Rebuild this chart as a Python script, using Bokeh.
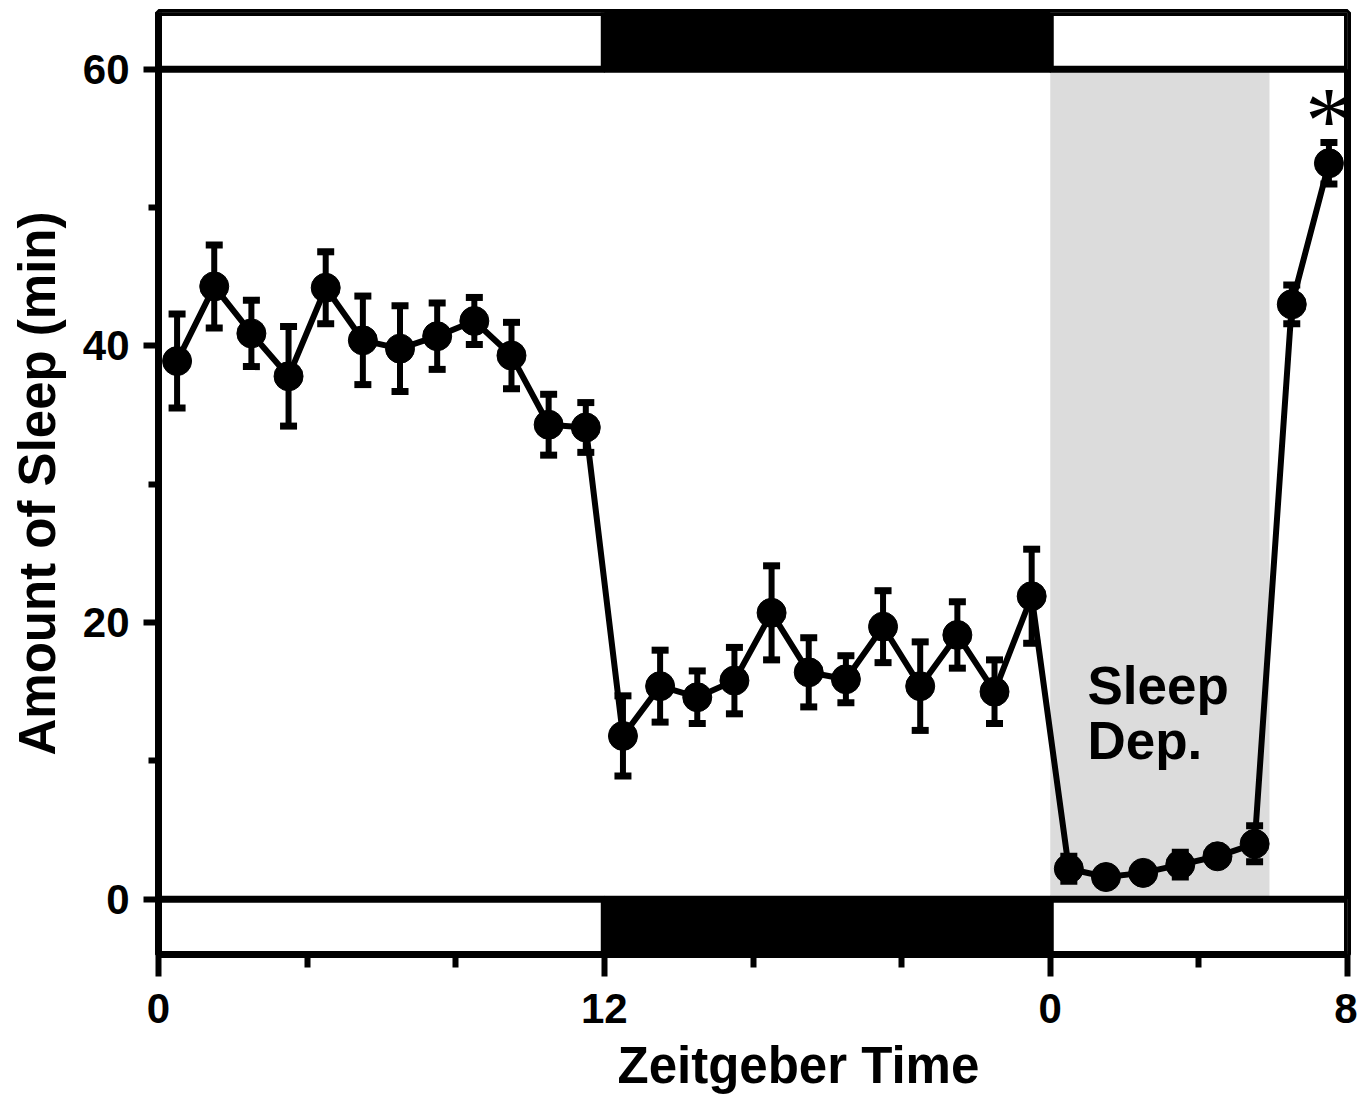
from bokeh.plotting import figure
from bokeh.models import FixedTicker, Title, Range1d
from bokeh.embed import file_html
from bokeh.resources import INLINE
from bokeh.core.properties import value

# ---- data ----
hours = [0.5, 1.5, 2.5, 3.5, 4.5, 5.5, 6.5, 7.5, 8.5, 9.5, 10.5, 11.5,
         12.5, 13.5, 14.5, 15.5, 16.5, 17.5, 18.5, 19.5, 20.5, 21.5, 22.5, 23.5,
         24.5, 25.5, 26.5, 27.5, 28.5, 29.5, 30.5, 31.5]
sleep_min = [38.9, 44.3, 40.9, 37.8, 44.2, 40.4, 39.8, 40.7, 41.8, 39.3, 34.3, 34.1,
             11.8, 15.4, 14.6, 15.8, 20.7, 16.4, 15.9, 19.7, 15.4, 19.1, 15.0, 21.9,
             2.2, 1.6, 1.9, 2.5, 3.1, 4.0, 43.0, 53.2]
sem = [3.4, 3.0, 2.4, 3.6, 2.6, 3.2, 3.1, 2.4, 1.7, 2.4, 2.2, 1.8,
       2.9, 2.6, 1.9, 2.4, 3.4, 2.5, 1.7, 2.6, 3.2, 2.4, 2.3, 3.4,
       0.9, 0.6, 0.5, 0.9, 0.5, 1.3, 1.4, 1.5]

phase_start = [0, 12, 24]
phase_end = [12, 24, 32]
phase_color = ["white", "black", "white"]

sd_start, sd_end = 24, 29.9

x_ticks = [0, 12, 24, 32]
x_tick_labels = ["0", "12", "0", "8"]
x_minor = [4, 8, 16, 20, 28]
y_ticks = [0, 20, 40, 60]
y_minor = [10, 30, 50]

y_lo, y_hi = -4.0, 64.1

upper = [v + e for v, e in zip(sleep_min, sem)]
lower = [v - e for v, e in zip(sleep_min, sem)]

FONT = "Liberation Sans"

p = figure(frame_width=1189, frame_height=942,
           x_range=Range1d(0, 32), y_range=Range1d(y_lo, y_hi),
           output_backend="svg", toolbar_location=None,
           min_border_left=158, min_border_top=12, min_border_right=10,
           min_border_bottom=0)
p.background_fill_color = "white"
p.border_fill_color = "white"
p.outline_line_color = "black"
p.outline_line_width = 7
p.xgrid.visible = False
p.ygrid.visible = False

# sleep deprivation shading
p.quad(left=[sd_start], right=[sd_end], bottom=[0], top=[60],
       fill_color="#dcdcdc", line_color=None)

# light/dark bars (top and bottom)
p.quad(left=phase_start, right=phase_end, bottom=[60] * 3, top=[y_hi] * 3,
       fill_color=phase_color, line_color="black", line_width=7)
p.quad(left=phase_start, right=phase_end, bottom=[y_lo] * 3, top=[0] * 3,
       fill_color=phase_color, line_color="black", line_width=7)

# error bars
p.segment(x0=hours, y0=lower, x1=hours, y1=upper, line_color="black", line_width=6)
p.rect(x=hours, y=upper, width=17, height=7, width_units="screen",
       height_units="screen", fill_color="black", line_color=None)
p.rect(x=hours, y=lower, width=17, height=7, width_units="screen",
       height_units="screen", fill_color="black", line_color=None)

# line and markers
p.line(hours, sleep_min, line_color="black", line_width=6)
p.scatter(hours, sleep_min, size=29, fill_color="black", line_color="black")

# annotations
p.text(x=[sd_start + 1.0, sd_start + 1.0], y=[15.45, 11.5], text=["Sleep", "Dep."],
       text_font=value(FONT), text_font_style="bold", text_font_size="53px",
       text_align="left", text_baseline="alphabetic", text_color="black")
p.text(x=[hours[-1]], y=[sleep_min[-1] + sem[-1] + 1.6], text=["*"],
       text_font=value("Liberation Serif"), text_font_style="normal",
       text_font_size="96px",
       text_align="center", text_baseline="alphabetic", text_color="black")

# x axis
xa = p.xaxis[0]
xa.ticker = FixedTicker(ticks=x_ticks, minor_ticks=x_minor)
xa.major_label_overrides = {t: l for t, l in zip(x_ticks, x_tick_labels)}
xa.axis_line_width = 7
xa.major_tick_line_width = 6
xa.minor_tick_line_width = 6
xa.major_tick_out = 22
xa.major_tick_in = 0
xa.minor_tick_out = 13
xa.minor_tick_in = 0
xa.major_label_standoff = 17
xa.major_label_text_font = FONT
xa.major_label_text_font_style = "bold"
xa.major_label_text_font_size = "42px"
xa.major_label_text_color = "black"

# y axis
ya = p.yaxis[0]
ya.ticker = FixedTicker(ticks=y_ticks, minor_ticks=y_minor)
ya.axis_line_width = 7
ya.major_tick_line_width = 6
ya.minor_tick_line_width = 6
ya.major_tick_out = 15
ya.major_tick_in = 0
ya.minor_tick_out = 10
ya.minor_tick_in = 0
ya.major_label_standoff = 14
ya.major_label_text_font = FONT
ya.major_label_text_font_style = "bold"
ya.major_label_text_font_size = "42px"
ya.major_label_text_color = "black"
ya.axis_label = "Amount of Sleep (min)"
ya.axis_label_text_font = FONT
ya.axis_label_text_font_style = "bold"
ya.axis_label_text_font_size = "51px"
ya.axis_label_text_color = "black"
ya.axis_label_standoff = 14

p.add_layout(Title(text="Zeitgeber Time", align="left", offset=459,
                   text_font=FONT, text_font_style="bold", text_font_size="51px",
                   text_color="black", standoff=18), "below")

open("out.html", "w").write(file_html(p, INLINE))
